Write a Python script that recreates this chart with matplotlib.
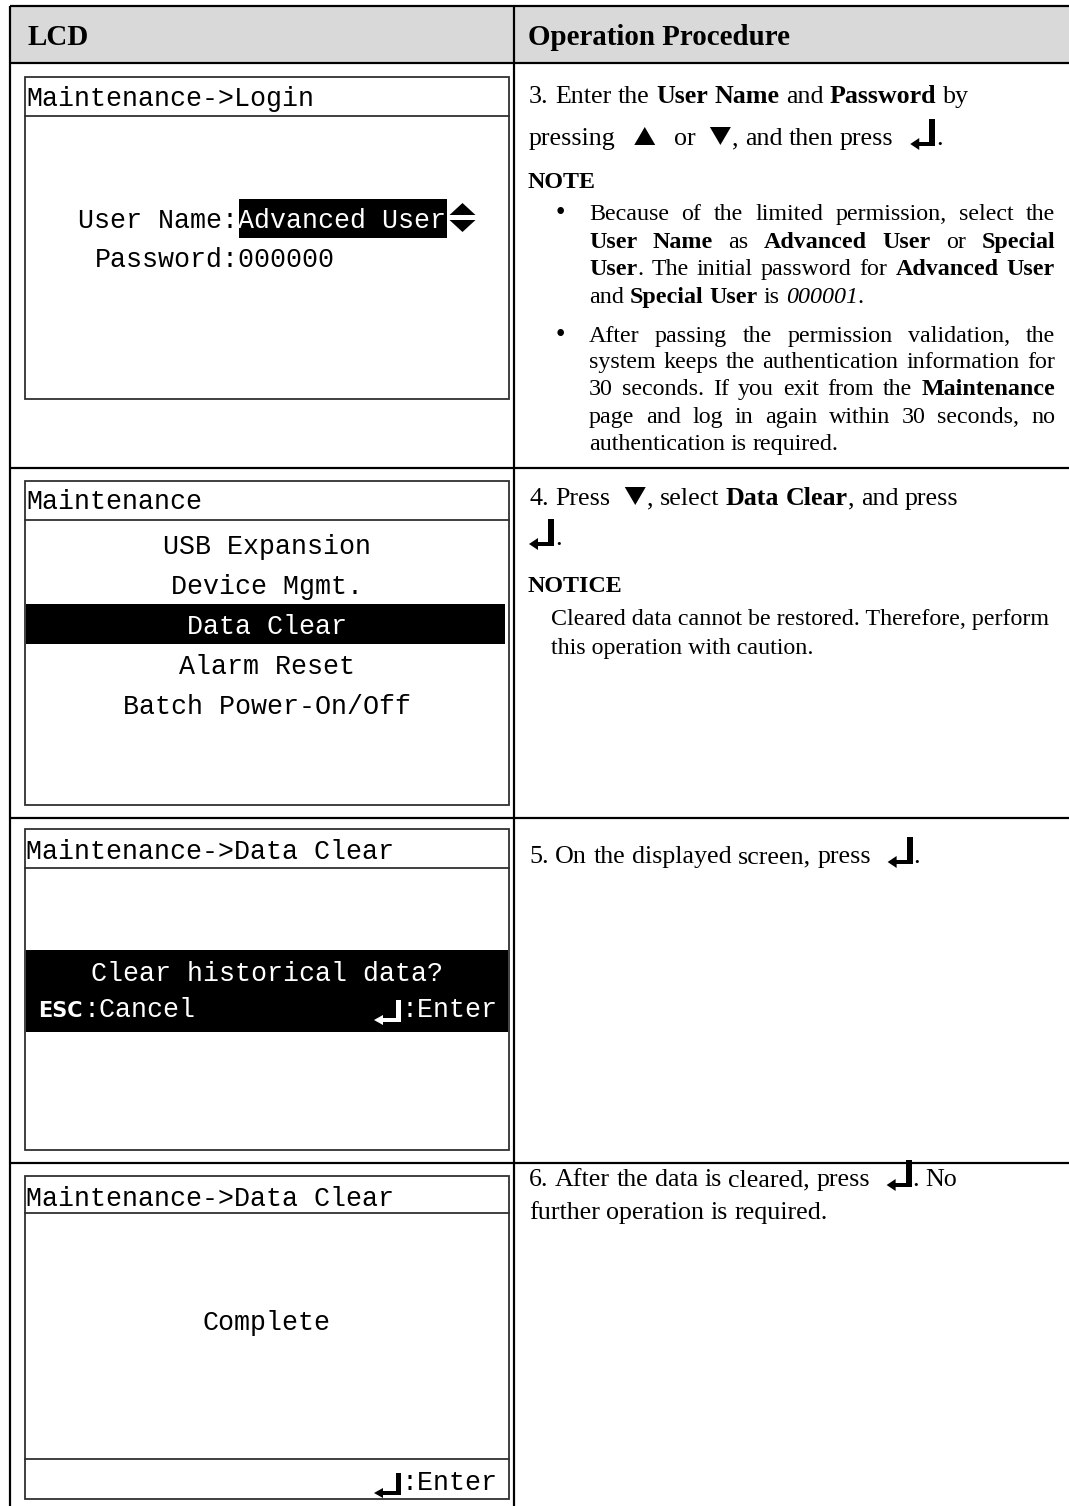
import matplotlib
matplotlib.use('Agg')
import matplotlib.pyplot as plt
from matplotlib.patches import Rectangle, Polygon

# ---------------- data (texts) ----------------
header_labels = ["LCD", "Operation Procedure"]
screen_titles = ["Maintenance->Login", "Maintenance",
                 "Maintenance->Data Clear", "Maintenance->Data Clear"]
login_fields = ["User Name:", "Password:"]
login_values = ["Advanced User", "000000"]
menu_items = ["USB Expansion", "Device Mgmt.", "Data Clear",
              "Alarm Reset", "Batch Power-On/Off"]
menu_selected = "Data Clear"
confirm_prompt = "Clear historical data?"
confirm_keys = ["ESC", ":Cancel", ":Enter"]
complete_msg = "Complete"

step3_lines = [
    [('n', '3. Enter the '), ('b', 'User Name'), ('n', ' and '), ('b', 'Password'), ('n', ' by')],
    [('n', 'pressing '), ('up', ''), ('n', ' or '), ('down', ''), ('n', ', and then press '),
     ('enter', ''), ('n', '.')],
]
note_label = "NOTE"
note_bullets = [
    [[('n', 'Because of the limited permission, select the')],
     [('b', 'User Name'), ('n', ' as '), ('b', 'Advanced User'), ('n', ' or '), ('b', 'Special')],
     [('b', 'User'), ('n', '. The initial password for '), ('b', 'Advanced User')],
     [('n', 'and '), ('b', 'Special User'), ('n', ' is '), ('i', '000001'), ('n', '.')]],
    [[('n', 'After passing the permission validation, the')],
     [('n', 'system keeps the authentication information for')],
     [('n', '30 seconds. If you exit from the '), ('b', 'Maintenance')],
     [('n', 'page and log in again within 30 seconds, no')],
     [('n', 'authentication is required.')]],
]
step4_lines = [
    [('n', '4. Press '), ('down', ''), ('n', ', select '), ('b', 'Data Clear'), ('n', ', and press')],
    [('enter', ''), ('n', '.')],
]
notice_label = "NOTICE"
notice_lines = ["Cleared data cannot be restored. Therefore, perform",
                "this operation with caution."]
step5_lines = [
    [('n', '5. On the displayed screen, press '), ('enter', ''), ('n', '.')],
]
step6_lines = [
    [('n', '6. After the data is cleared, press '), ('enter', ''), ('n', '. No')],
    [('n', 'further operation is required.')],
]

# ---------------- layout ----------------
W, H = 1069, 1506
DPI = 100
PT = 72.0 / DPI

fig = plt.figure(figsize=(W / DPI, H / DPI), dpi=DPI)
ax = fig.add_axes([0, 0, 1, 1])
ax.set_xlim(0, W)
ax.set_ylim(H, 0)
ax.axis('off')
R = fig.canvas.get_renderer()

SERIF = 'Liberation Serif'
MONO = 'Liberation Mono'
NOTE_PX = 24
STEP_PX = 26
HEAD = 29 * PT
LCD = 26.66 * PT


def styles(px):
    s = px * PT
    return {
        'n': dict(fontfamily=SERIF, fontsize=s),
        'b': dict(fontfamily=SERIF, fontsize=s, fontweight='bold'),
        'i': dict(fontfamily=SERIF, fontsize=s, fontstyle='italic'),
    }


STY_NOTE = styles(NOTE_PX)
STY_STEP = styles(STEP_PX)


def tw(s, **kw):
    t = ax.text(0, 0, s, **kw)
    w = t.get_window_extent(renderer=R).width
    t.remove()
    return w


# ---------------- icons ----------------
ICON = {'up': (12, 21, 12), 'down': (8, 21, 1), 'enter': (10, 25, 1)}


def icon_up(x, base, w=21, h=18, color='black'):
    ax.add_patch(Polygon([(x, base), (x + w, base), (x + w / 2, base - h)],
                         closed=True, fc=color, ec='none'))


def icon_down(x, base, w=21, h=18, color='black'):
    ax.add_patch(Polygon([(x, base - h), (x + w, base - h), (x + w / 2, base)],
                         closed=True, fc=color, ec='none'))


def icon_enter(x, bottom, w=25, h=27, tv=6, th=4, hl=9, hh=12, color='black'):
    right = x + w
    ax.add_patch(Rectangle((right - tv, bottom - h), tv, h, fc=color, ec='none'))
    ax.add_patch(Rectangle((x + hl - 1, bottom - th), w - hl + 1, th, fc=color, ec='none'))
    cy = bottom - th / 2
    ax.add_patch(Polygon([(x, cy), (x + hl, cy - hh / 2), (x + hl, cy + hh / 2)],
                         closed=True, fc=color, ec='none'))


def draw_line(x0, base, runs, sty, justify_right=None):
    space_w = tw('a a', **sty['n']) - tw('aa', **sty['n'])
    pieces = []
    pend = 0
    for st, txt in runs:
        if st in ICON:
            pieces.append([st, '', pend])
            pend = 0
            continue
        parts = txt.split(' ')
        for i, p in enumerate(parts):
            if i > 0:
                pend += 1
            if p:
                pieces.append([st, p, pend])
                pend = 0
    widths = []
    for i, (st, p, sp) in enumerate(pieces):
        if st in ICON:
            l, w, r = ICON[st]
            if i == 0:
                l = 0
            widths.append(l + w + r)
        else:
            widths.append(tw(p, **sty[st]))
    nsp = sum(pc[2] for i, pc in enumerate(pieces) if i > 0)
    space = space_w
    if justify_right is not None and nsp:
        space = (justify_right - x0 - sum(widths)) / nsp
    x = x0
    for i, ((st, p, sp), w) in enumerate(zip(pieces, widths)):
        if i > 0:
            x += space * sp
        lpad = ICON[st][0] if (st in ICON and i > 0) else 0
        if st == 'up':
            icon_up(x + lpad, base)
        elif st == 'down':
            icon_down(x + lpad, base)
        elif st == 'enter':
            icon_enter(x + lpad, base + 1)
        else:
            ax.text(x, base, p, ha='left', va='baseline', **sty[st])
        x += w


# ---------------- table frame ----------------
LX, DIV = 10, 514
TOP, HB = 6, 63
ROW_Y = [468, 818, 1163]
LW = 2.2 * PT

ax.add_patch(Rectangle((LX, TOP), W - LX, HB - TOP, fc='#d9d9d9', ec='none'))
for y in [TOP, HB] + ROW_Y:
    ax.plot([LX, W], [y, y], color='black', lw=LW, solid_capstyle='butt')
for x in [LX, DIV]:
    ax.plot([x, x], [TOP, H], color='black', lw=LW, solid_capstyle='butt')

ax.text(28, 45, header_labels[0], ha='left', va='baseline',
        fontfamily=SERIF, fontsize=HEAD, fontweight='bold')
ax.text(528, 45, header_labels[1], ha='left', va='baseline',
        fontfamily=SERIF, fontsize=HEAD, fontweight='bold')

# ---------------- LCD screens ----------------
BX0, BX1 = 25, 509
BOX_LW = 1.8 * PT
BOX_C = '#303030'
MONO_KW = dict(fontfamily=MONO, fontsize=LCD)
CW = tw('M' * 20, **MONO_KW) / 20.0


def screen(top, bottom, title_sep):
    ax.add_patch(Rectangle((BX0, top), BX1 - BX0, bottom - top, fc='none',
                           ec=BOX_C, lw=BOX_LW))
    ax.plot([BX0, BX1], [title_sep, title_sep], color=BOX_C, lw=BOX_LW)


def lcd_text(x, center, s, ha='left', color='black', **kw):
    d = dict(MONO_KW)
    d.update(kw)
    ax.text(x, center + 9, s, ha=ha, va='baseline', color=color, **d)


# screen 1 : login
screen(77, 399, 116)
lcd_text(26, 97, screen_titles[0])
ux = 78.5
lcd_text(ux, 219, login_fields[0])
hx0 = ux + len(login_fields[0]) * CW
hx1 = hx0 + len(login_values[0]) * CW
ax.add_patch(Rectangle((hx0, 199), hx1 - hx0, 39, fc='black', ec='none'))
lcd_text(hx0, 219, login_values[0], color='white')
icon_up(hx1 + 3, 215, w=26, h=12)
icon_down(hx1 + 3, 232, w=26, h=12)
px = hx0 - len(login_fields[1]) * CW
lcd_text(px, 258, login_fields[1] + login_values[1])

# screen 2 : menu
screen(481, 805, 520)
lcd_text(26, 500, screen_titles[1])
CXS = (BX0 + BX1) / 2
for i, item in enumerate(menu_items):
    cy = 545 + 40 * i
    if item == menu_selected:
        ax.add_patch(Rectangle((BX0 + 1, cy - 21), 505 - BX0 - 1, 40, fc='black', ec='none'))
        lcd_text(CXS, cy, item, ha='center', color='white')
    else:
        lcd_text(CXS, cy, item, ha='center')

# screen 3 : confirm
screen(829, 1150, 868)
lcd_text(26, 850, screen_titles[2])
ax.add_patch(Rectangle((BX0 + 1, 950), BX1 - BX0 - 2, 82, fc='black', ec='none'))
lcd_text(CXS, 972, confirm_prompt, ha='center', color='white')
ax.text(38, 1017, confirm_keys[0], ha='left', va='baseline', color='white',
        fontfamily='DejaVu Sans', fontweight='bold', fontsize=15)
lcd_text(84, 1008, confirm_keys[1], color='white')
lcd_text(402, 1008, confirm_keys[2], color='white')
icon_enter(374, 1022, w=27, h=22, tv=5, th=4, hl=9, hh=10, color='white')

# screen 4 : complete
screen(1176, 1499, 1213)
lcd_text(26, 1197, screen_titles[3])
lcd_text(CXS, 1321, complete_msg, ha='center')
ax.plot([BX0, BX1], [1459, 1459], color=BOX_C, lw=BOX_LW)
lcd_text(402, 1481, confirm_keys[2])
icon_enter(374, 1495, w=27, h=22, tv=5, th=4, hl=9, hh=10, color='black')

# ---------------- procedure column ----------------
TX = 528
RIGHT = 1055

draw_line(TX + 1, 103, step3_lines[0], STY_STEP)
draw_line(TX + 1, 145, step3_lines[1], STY_STEP)
ax.text(TX, 188, note_label, ha='left', va='baseline', **STY_NOTE['b'])
bul_bases = [[220, 248, 275, 303], [342, 368, 395, 423, 450]]
for lines, bases in zip(note_bullets, bul_bases):
    ax.text(554, bases[0] - 1, '\u2022', ha='left', va='baseline',
            fontfamily='DejaVu Sans', fontsize=NOTE_PX * PT * 0.95)
    for j, (ln, b) in enumerate(zip(lines, bases)):
        just = RIGHT if j < len(lines) - 1 else None
        draw_line(589, b, ln, STY_NOTE, justify_right=just)

draw_line(TX + 1, 505, step4_lines[0], STY_STEP)
draw_line(TX + 1, 545, step4_lines[1], STY_STEP)
ax.text(TX, 592, notice_label, ha='left', va='baseline', **STY_NOTE['b'])
for s, b in zip(notice_lines, [625, 654]):
    ax.text(551, b, s, ha='left', va='baseline', **STY_NOTE['n'])

draw_line(TX + 1, 863, step5_lines[0], STY_STEP)
draw_line(TX + 1, 1186, step6_lines[0], STY_STEP)
draw_line(TX + 1, 1219, step6_lines[1], STY_STEP)

fig.savefig('out.png', dpi=DPI)
